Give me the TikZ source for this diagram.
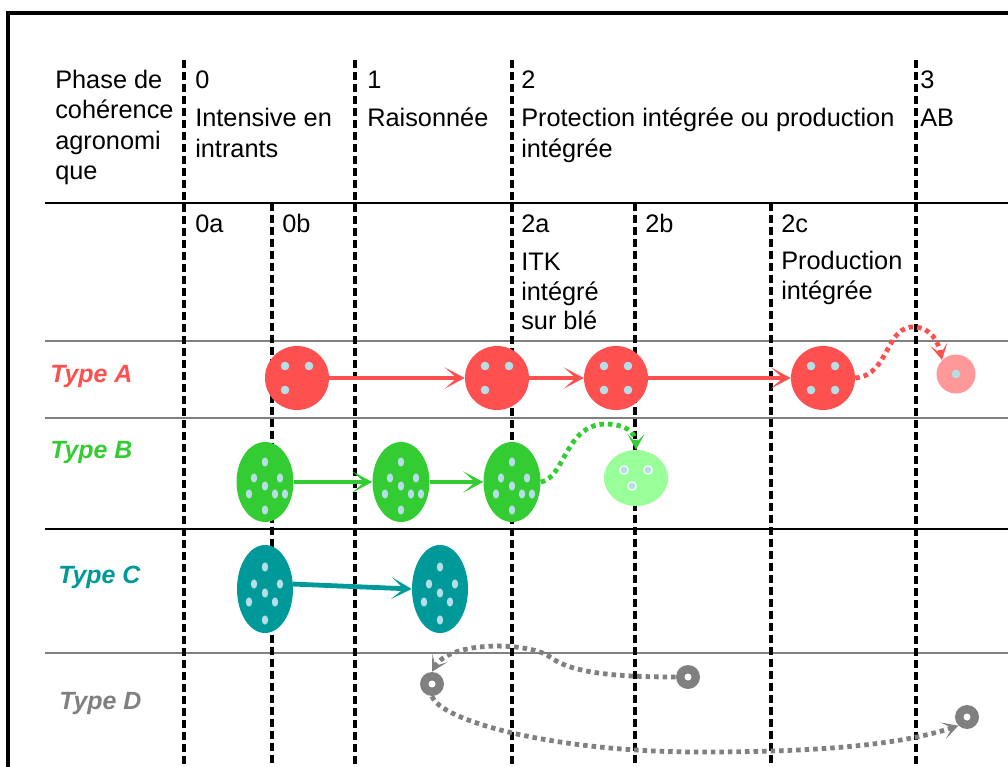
\documentclass[tikz,border=0pt]{standalone}
\usepackage{fontspec}
\setmainfont{Liberation Sans}
\usetikzlibrary{arrows.meta,shapes.geometric}

\definecolor{redA}{RGB}{255,80,80}
\definecolor{redAlight}{RGB}{255,153,153}
\definecolor{greenB}{RGB}{51,204,51}
\definecolor{greenBlight}{RGB}{153,255,153}
\definecolor{tealC}{RGB}{0,153,153}
\definecolor{grayD}{RGB}{128,128,128}
\definecolor{seed}{RGB}{183,222,232}

\begin{document}
\begin{tikzpicture}[x=0.75pt,y=0.75pt,yscale=-1,
  txt/.style={anchor=base west,inner sep=0pt,font=\fontsize{19}{23}\selectfont},
  typ/.style={anchor=base west,inner sep=0pt,font=\fontsize{18.7}{22}\selectfont\bfseries\itshape},
  sep/.style={dash pattern=on 6pt off 3pt,line width=2.8pt},
  rule/.style={line width=1.8pt,color=grayD},
  farm/.style={circle,fill=#1,inner sep=0pt,minimum size=48pt},
  farmb/.style={ellipse,fill=#1,inner sep=0pt,minimum width=42.75pt,minimum height=60pt},
  farmc/.style={ellipse,fill=#1,inner sep=0pt,minimum width=42pt,minimum height=66pt},
  farmd/.style={circle,fill=grayD,inner sep=0pt,minimum size=18pt},
  go/.style={draw=#1,line width=3.6pt,-{Stealth[length=15pt,width=16pt,inset=9pt]}},
  jump/.style={draw=#1,line width=3.6pt,dash pattern=on 3.4pt off 3pt,-{Stealth[length=12pt,width=13pt,inset=7pt]}}
]
\useasboundingbox (0,0) rectangle (1008,767);

%Frame
\draw[line width=3pt] (8,767) -- (8,13) -- (1008,13);
%Straight Lines (rows)
\draw[line width=1pt] (45,203) -- (1008,203);
\foreach \y in {341,418,653} \draw[rule] (45,\y) -- (1008,\y);
\draw[line width=1.3pt] (45,529) -- (1008,529);
%Dashed Lines (phases)
\foreach \x in {184,355,512,916} \draw[sep] (\x,60) -- (\x,767);
\foreach \x in {272,635,771} \draw[sep] (\x,203) -- (\x,767);

% Text Node
\node[txt] (ph1) at (55,89) {Phase de};
\node[txt] (ph2) at (55,119) {cohérence};
\node[txt] (ph3) at (55,150) {agronomi};
\node[txt] (ph4) at (55,180) {que};
% Text Node
\node[txt] (p0) at (195,89) {0};
\node[txt] (p0x) at (195,127) {Intensive en};
\node[txt] (p0y) at (195,157) {intrants};
% Text Node
\node[txt] (p1) at (367,89) {1};
\node[txt] (p1x) at (367,127) {Raisonnée};
% Text Node
\node[txt] (p2) at (521,89) {2};
\node[txt] (p2x) at (521,127) {Protection intégrée ou production};
\node[txt] (p2y) at (521,157) {intégrée};
% Text Node
\node[txt] (p3) at (920,89) {3};
\node[txt] (p3x) at (920,127) {AB};
% Text Node
\node[txt] (s0a) at (195,233) {0a};
\node[txt] (s0b) at (282,233) {0b};
\node[txt] (s2a) at (521,233) {2a};
\node[txt] (s2ax) at (521,270) {ITK};
\node[txt] (s2ay) at (521,300) {intégré};
\node[txt] (s2az) at (521,329) {sur blé};
\node[txt] (s2b) at (645,233) {2b};
\node[txt] (s2c) at (781,233) {2c};
\node[txt] (s2cx) at (781,269) {Production};
\node[txt] (s2cy) at (781,299) {intégrée};

% Text Node
\node[typ,text=redA] (tA) at (50,382) {Type A};
\node[typ,text=greenB] (tB) at (50,458) {Type B};
\node[typ,text=tealC] (tC) at (58,583) {Type C};
\node[typ,text=grayD] (tD) at (59,709) {Type D};

%Shape: Circle (type A)
\node[farm=redA] (a1) at (297,378) {};
\node[farm=redA] (a2) at (497,378) {};
\node[farm=redA] (a3) at (616,378) {};
\node[farm=redA] (a4) at (823,378) {};
\node[circle,fill=redAlight,inner sep=0pt,minimum size=29.25pt] (a5) at (956,374) {};
\foreach \n in {a1,a2}
  \foreach \dx/\dy in {-12/-12,12/-12,-12/12}
    \fill[seed] ([shift={(\dx,\dy)}]\n.center) circle (4.3);
\foreach \n in {a3,a4}
  \foreach \dx/\dy in {-12/-12,12/-12,-12/12,12/12}
    \fill[seed] ([shift={(\dx,\dy)}]\n.center) circle (4.3);
\fill[seed] (a5.center) circle (4.3);

%Shape: Ellipse (type B)
\node[farmb=greenB] (b1) at (265,482) {};
\node[farmb=greenB] (b2) at (401,482) {};
\node[farmb=greenB] (b3) at (512,482) {};
\node[ellipse,fill=greenBlight,inner sep=0pt,minimum width=48pt,minimum height=42pt] (b4) at (636,478) {};
\foreach \n in {b1,b2,b3}
  \foreach \dx/\dy in {0/-20,-11/-4,15/-4,0/4,-16/12,10/12,20/12,0/28}
    \fill[seed] ([shift={(\dx,\dy)}]\n.center) ellipse (3.2 and 4.6);
\foreach \dx/\dy in {-12/-8,12/-8,-4/8}
  \filldraw[fill=seed,draw=white,line width=0.75pt] ([shift={(\dx,\dy)}]b4.center) circle (4.3);

%Shape: Ellipse (type C)
\node[farmc=tealC] (c1) at (265,589) {};
\node[farmc=tealC] (c2) at (440,589) {};
\foreach \n in {c1,c2}
  \foreach \dx/\dy in {0/-22,-11/-5,15/-5,0/4,-16/13,10/13,0/31}
    \fill[seed] ([shift={(\dx,\dy)}]\n.center) ellipse (3.2 and 4.6);

%Shape: Circle (type D)
\node[farmd] (d1) at (432,684) {};
\node[farmd] (d2) at (688,677) {};
\node[farmd] (d3) at (967,717) {};
\foreach \n in {d1,d2,d3} \fill[white] (\n.center) circle (3.5);

%Arrows
\draw[go=redA] (a1) -- (a2);
\draw[go=redA] (a2) -- (a3);
\draw[go=redA] (a3) -- (a4);
\draw[jump=redA] (a4.east) .. controls (890,375) and (885,325) .. (915,327) .. controls (930,328) and (938,340) .. (a5.north west);
\draw[go=greenB] (b1) -- (b2);
\draw[go=greenB] (b2) -- (b3);
\draw[jump=greenB] (b3.east) .. controls (565,478) and (565,425) .. (605,424) .. controls (625,424) and (636,432) .. (b4.north);
\draw[go=tealC] (c1.10) -- (c2.west);
\draw[jump=grayD] (d2.west) .. controls (610,677) and (570,672) .. (550,657) .. controls (530,642) and (450,640) .. (d1.north);
\draw[jump=grayD] (d1.south) .. controls (440,720) and (550,752) .. (700,752) .. controls (820,752) and (900,745) .. (d3.south west);

\end{tikzpicture}
\end{document}
